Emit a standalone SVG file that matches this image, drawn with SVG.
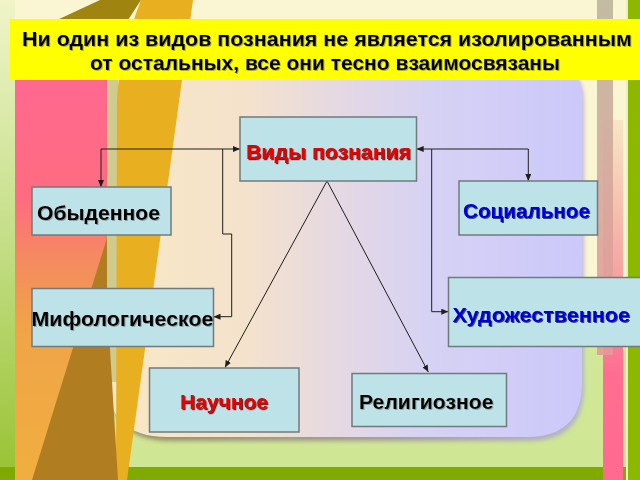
<svg xmlns="http://www.w3.org/2000/svg" width="640" height="480" viewBox="0 0 640 480">
<defs>
<style>
.node{fill:#bde2e7;stroke:#6f7b7d;stroke-width:1.5}
.t{font-family:"Liberation Sans",Arial,sans-serif;font-weight:bold;font-size:20.5px}
.h{font-size:20px}
.red{fill:#e60000;filter:url(#sh)}
.blue{fill:#0000d2;filter:url(#shb)}
.blk{fill:#000;filter:url(#shg)}
.con{fill:none;stroke:#1e1e1e;stroke-width:1}
</style>
<filter id="sh" x="-5%" y="-20%" width="110%" height="140%"><feDropShadow dx="1.2" dy="1.2" stdDeviation="0.3" flood-color="#3a0000" flood-opacity="0.8"/></filter>
<filter id="shb" x="-5%" y="-20%" width="110%" height="140%"><feDropShadow dx="1" dy="1" stdDeviation="0.3" flood-color="#00003a" flood-opacity="0.7"/></filter>
<filter id="shg" x="-5%" y="-20%" width="110%" height="140%"><feDropShadow dx="1" dy="1" stdDeviation="0.4" flood-color="#555" flood-opacity="0.45"/></filter>
<filter id="blur"><feGaussianBlur stdDeviation="2"/></filter>
<marker id="ah" markerUnits="userSpaceOnUse" markerWidth="7" markerHeight="6" refX="7" refY="3" orient="auto-start-reverse"><path d="M0,0 L7,3 L0,6 z" fill="#1e1e1e"/></marker>
<linearGradient id="lg" x1="0" y1="0" x2="0" y2="1"><stop offset="0" stop-color="#f0f4c8"/><stop offset="0.5" stop-color="#c4de88"/><stop offset="1" stop-color="#98c232"/></linearGradient>
<linearGradient id="gz" x1="0" y1="0" x2="0" y2="1"><stop offset="0" stop-color="#faf6d4" stop-opacity="0"/><stop offset="0.25" stop-color="#d2e898"/><stop offset="1" stop-color="#cfe694"/></linearGradient>
<linearGradient id="pk" x1="0" y1="0" x2="0" y2="1"><stop offset="0" stop-color="#f8e6c6"/><stop offset="0.45" stop-color="#f4a0a0"/><stop offset="0.7" stop-color="#ff6e92"/><stop offset="1" stop-color="#ff6a90"/></linearGradient>
<linearGradient id="tan" x1="0" y1="0" x2="0" y2="1"><stop offset="0" stop-color="#bcb49c"/><stop offset="0.5" stop-color="#d4a89c"/><stop offset="1" stop-color="#e89898"/></linearGradient>
<linearGradient id="lp" x1="0" y1="80" x2="0" y2="480" gradientUnits="userSpaceOnUse"><stop offset="0" stop-color="#ff6890"/><stop offset="0.3" stop-color="#ff6c80"/><stop offset="0.45" stop-color="#f58a60"/><stop offset="0.62" stop-color="#f0a448"/><stop offset="1" stop-color="#f0ae40"/></linearGradient>
<linearGradient id="pn" x1="107" y1="0" x2="582" y2="0" gradientUnits="userSpaceOnUse"><stop offset="0" stop-color="#f8e8c4"/><stop offset="0.3" stop-color="#f4e2cc"/><stop offset="0.5" stop-color="#e4d8e4"/><stop offset="0.68" stop-color="#d6d2f4"/><stop offset="1" stop-color="#ccc8fa"/></linearGradient>
<linearGradient id="ps" x1="150" y1="0" x2="582" y2="0" gradientUnits="userSpaceOnUse"><stop offset="0" stop-color="#8a7a60"/><stop offset="0.6" stop-color="#9a8ca0"/><stop offset="1" stop-color="#b0a8d8"/></linearGradient>
</defs>
<g id="background">
<rect x="0" y="0" width="640" height="480" fill="#faf6d4"/>
<rect x="0" y="0" width="15" height="480" fill="url(#lg)"/>
<rect x="15" y="300" width="613" height="168" fill="url(#gz)"/>
<rect x="0" y="467" width="628" height="13" fill="#80aa00"/>
<rect x="626" y="0" width="2" height="480" fill="#e8f0c0"/>
<rect x="628" y="0" width="12" height="480" fill="#8cb800"/>
<rect x="603" y="120" width="20" height="360" fill="url(#pk)"/>
<rect x="597" y="0" width="16" height="355" fill="url(#tan)" opacity="0.9"/>
<rect x="15" y="80" width="92" height="400" fill="url(#lp)"/>
<path d="M109,66 H548 Q584,66 584,102 V386 Q584,441 529,441 H170 Q109,441 109,380 Z" fill="url(#ps)" filter="url(#blur)" opacity="0.8"/>
<path d="M107,62 H547 Q582,62 582,97 V382 Q582,437 527,437 H167 Q107,437 107,377 Z" fill="url(#pn)"/>
<rect x="107" y="62" width="11" height="320" fill="#cfca8e"/>
<path d="M57,20 L100,0 L141,0 L128,20 Z" fill="#a08410"/>
<path d="M141,0 L193,0 L127,480 L116,480 L117,100 Q118,60 141,0 Z" fill="#e8b020"/>
<path d="M107,238 L107,300 L118,480 L32,480 Z" fill="#b07e20"/>
</g>
<g id="header">
<rect x="10" y="19" width="630" height="61" fill="#ffff00"/>
<text class="t h blk" x="327" y="45.5" text-anchor="middle" textLength="610" lengthAdjust="spacingAndGlyphs">Ни один из видов познания не является изолированным</text>
<text class="t h blk" x="325" y="70" text-anchor="middle" textLength="470" lengthAdjust="spacingAndGlyphs">от остальных, все они тесно взаимосвязаны</text>
</g>
<g id="connectors">
<path class="con" d="M240,149 H101 V187" marker-start="url(#ah)" marker-end="url(#ah)"/>
<path class="con" d="M222.7,149 V234 H231.7 V316.7 H213.5" marker-end="url(#ah)"/>
<path class="con" d="M416.7,149 H528.3 V181" marker-start="url(#ah)" marker-end="url(#ah)"/>
<path class="con" d="M431.7,149 V311.7 H448.3" marker-end="url(#ah)"/>
<path class="con" d="M327,181 L225,367.5" marker-end="url(#ah)"/>
<path class="con" d="M327,181 L428.3,372" marker-end="url(#ah)"/>
</g>
<g id="node-vidy">
<rect class="node" x="240" y="117" width="176.5" height="64"/>
<text class="t red" x="246" y="158.5" textLength="165" lengthAdjust="spacingAndGlyphs">Виды познания</text>
</g>
<g id="node-obydennoe">
<rect class="node" x="32" y="187" width="139" height="48"/>
<text class="t blk" x="37" y="219.5" textLength="123" lengthAdjust="spacingAndGlyphs">Обыденное</text>
</g>
<g id="node-sotsialnoe">
<rect class="node" x="459" y="181" width="138.5" height="54"/>
<text class="t blue" x="463" y="218" textLength="127" lengthAdjust="spacingAndGlyphs">Социальное</text>
</g>
<g id="node-mifologicheskoe">
<rect class="node" x="32" y="288.5" width="181.5" height="58"/>
<text class="t blk" x="31.5" y="325.5" textLength="182" lengthAdjust="spacingAndGlyphs">Мифологическое</text>
</g>
<g id="node-khudozhestvennoe">
<rect class="node" x="448.5" y="277.5" width="195" height="69"/>
<text class="t blue" x="452.5" y="322" textLength="177.5" lengthAdjust="spacingAndGlyphs">Художественное</text>
</g>
<g id="node-nauchnoe">
<rect class="node" x="149.5" y="368" width="149.5" height="64"/>
<text class="t red" x="180" y="409" textLength="88" lengthAdjust="spacingAndGlyphs">Научное</text>
</g>
<g id="node-religioznoe">
<rect class="node" x="352" y="373.5" width="154.5" height="53"/>
<text class="t blk" x="359" y="409" textLength="134.5" lengthAdjust="spacingAndGlyphs">Религиозное</text>
</g>
</svg>
